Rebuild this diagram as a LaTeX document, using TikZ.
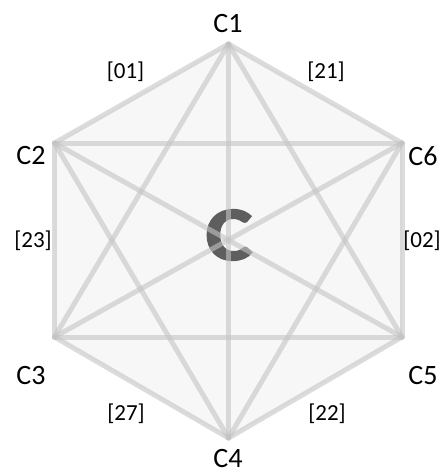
\documentclass[tikz,border=0pt]{standalone}
\usepackage{fontspec}
\setmainfont{Carlito}
\newfontfamily\midfont[FakeBold=2.5]{Carlito Bold}
\definecolor{linkgray}{HTML}{C4C4C4}
\definecolor{hexgray}{HTML}{F7F7F7}
\definecolor{midgray}{HTML}{5E5E5E}
\tikzset{
  link/.style={draw=linkgray, line width=5pt, opacity=0.6, line cap=round},
  corner/.style={font=\fontsize{28}{28}\selectfont},
  weight/.style={font=\fontsize{23}{23}\selectfont},
  centre/.style={font=\fontsize{76}{76}\midfont, text=midgray, xscale=1.15}
}
\begin{document}
\begin{tikzpicture}[x=1pt, y=-1pt]
\useasboundingbox (0,0) rectangle (447,474);
\coordinate (v1) at (228.5,44);
\coordinate (v2) at (54.5,143);
\coordinate (v3) at (54.5,337);
\coordinate (v4) at (228.5,438);
\coordinate (v5) at (402,337);
\coordinate (v6) at (402,143);
\fill[hexgray] (v1) -- (v2) -- (v3) -- (v4) -- (v5) -- (v6) -- cycle;
\node[centre] (mid) at (229,235) {C};
\foreach \a/\b in {1/2,1/3,1/4,1/5,1/6,2/3,2/4,2/5,2/6,3/4,3/5,3/6,4/5,4/6,5/6}
  \draw[link] (v\a) -- (v\b);
\node[corner] (n1) at (228,24) {C1};
\node[corner] (n2) at (31,156) {C2};
\node[corner] (n3) at (31,376) {C3};
\node[corner] (n4) at (228,459) {C4};
\node[corner] (n5) at (423,376) {C5};
\node[corner] (n6) at (423,156) {C6};
\node[weight] (w12) at (125.5,72) {[01]};
\node[weight] (w16) at (326,72) {[21]};
\node[weight] (w23) at (33,241) {[23]};
\node[weight] (w56) at (422,241) {[02]};
\node[weight] (w34) at (126,414) {[27]};
\node[weight] (w45) at (327,414) {[22]};
\end{tikzpicture}
\end{document}
